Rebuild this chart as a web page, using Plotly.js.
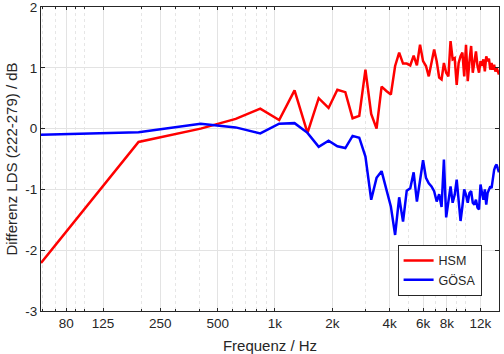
<!DOCTYPE html>
<html>
<head>
<meta charset="utf-8">
<script src="https://cdn.plot.ly/plotly-3.0.1.min.js"></script>
<style>html,body{margin:0;padding:0;background:#fff;}#chart{width:504px;height:354px;}</style>
</head>
<body>
<div id="chart"></div>
<script>
// Frequency points (Hz)
const freq = [59, 192, 407, 622, 837, 1052, 1267, 1482, 1697, 1912, 2127, 2342, 2557, 2772, 2987, 3202, 3417, 3632, 3847, 4062,
  4277, 4492, 4707, 4922, 5137, 5352, 5567, 5782, 5997, 6212, 6427, 6642, 6857, 7072, 7287, 7502, 7717, 7932, 8147, 8362,
  8577, 8792, 9007, 9222, 9437, 9652, 9867, 10082, 10297, 10512, 10727, 10942, 11157, 11372, 11587, 11802, 12017, 12232, 12447, 12662,
  12877, 13092, 13307, 13522, 13737, 13952, 14167, 14382, 14597, 14812, 15027];

// HSM difference (dB)
const hsm = [-2.21, -0.22, 0.00, 0.16, 0.33, 0.14, 0.63, -0.07, 0.50, 0.34, 0.64, 0.60, 0.17, 0.21, 0.97, 0.24, 0.00, 0.69, 0.62, 0.56,
  1.03, 1.25, 1.07, 1.07, 1.04, 1.20, 1.04, 1.38, 1.11, 1.03, 0.86, 1.08, 1.30, 1.11, 0.84, 0.81, 1.08, 0.92, 0.86, 1.44,
  1.14, 1.16, 0.72, 1.08, 1.19, 1.25, 0.86, 1.38, 0.78, 1.11, 1.36, 0.92, 1.14, 1.27, 1.03, 0.92, 1.11, 1.03, 1.14, 0.94,
  1.19, 1.11, 1.15, 0.97, 1.08, 0.97, 1.05, 0.94, 1.00, 0.95, 0.89];

// GÖSA difference (dB)
const goesa = [-0.10, -0.06, 0.08, 0.02, -0.08, 0.08, 0.09, -0.07, -0.30, -0.20, -0.29, -0.32, -0.12, -0.15, -0.46, -1.17, -0.81, -0.70, -1.00, -1.28,
  -1.75, -1.13, -1.53, -1.02, -0.98, -0.72, -1.20, -0.85, -0.52, -0.81, -0.90, -0.95, -1.03, -1.20, -1.08, -1.29, -0.51, -1.46, -1.20, -0.95,
  -1.22, -1.09, -0.84, -1.22, -1.52, -1.28, -1.00, -1.09, -1.22, -1.06, -1.03, -1.22, -1.25, -1.17, -1.30, -1.33, -0.92, -1.06, -1.17, -1.00,
  -1.25, -1.06, -1.00, -0.95, -0.98, -0.79, -0.68, -0.62, -0.59, -0.66, -0.72];

const seriesNames = ['HSM', 'GÖSA'];
const xTickVals = [80, 125, 250, 500, 1000, 2000, 4000, 6000, 8000, 12000];
const xTickText = ['80', '125', '250', '500', '1k', '2k', '4k', '6k', '8k', '12k'];
const xMinorVals = [60, 70, 90, 100, 200, 300, 400, 600, 700, 800, 900, 3000, 5000, 7000, 9000, 10000];
const yTickVals = [-3, -2, -1, 0, 1, 2];
const yTickText = ['-3', '-2', '-1', '0', '1', '2'];

const axisCol = '#262626';
const traces = [
  {x: freq, y: hsm, name: seriesNames[0], type: 'scatter', mode: 'lines', line: {color: '#ff0000', width: 2.5}},
  {x: freq, y: goesa, name: seriesNames[1], type: 'scatter', mode: 'lines', line: {color: '#0000ff', width: 2.5}}
];

const layout = {
  width: 504, height: 354,
  margin: {l: 41, r: 5, t: 7, b: 43},
  paper_bgcolor: '#ffffff', plot_bgcolor: '#ffffff',
  font: {family: 'Liberation Sans, Arial, sans-serif', size: 13.5, color: axisCol},
  showlegend: true,
  legend: {x: 0.962, xanchor: 'right', y: 0.05, yanchor: 'bottom', bgcolor: '#ffffff',
           bordercolor: axisCol, borderwidth: 1, font: {size: 12.5}},
  xaxis: {
    type: 'log', range: [Math.log10(freq[0]), Math.log10(freq[freq.length - 1])],
    tickmode: 'array', tickvals: xTickVals, ticktext: xTickText,
    ticks: 'inside', ticklen: 3, tickcolor: axisCol, tickwidth: 1,
    showline: true, linecolor: axisCol, linewidth: 1, mirror: 'ticks',
    showgrid: true, gridcolor: '#e3e3e3', gridwidth: 1, zeroline: false,
    ticklabeloverflow: 'allow',
    minor: {tickvals: xMinorVals, ticks: 'inside', ticklen: 2, tickcolor: axisCol,
            showgrid: true, gridcolor: '#e6e6e6', griddash: 'dot', gridwidth: 1},
    title: {text: 'Frequenz / Hz', font: {size: 15}, standoff: 10},
    automargin: false
  },
  yaxis: {
    range: [-3.001, 2.001], tickmode: 'array', tickvals: yTickVals, ticktext: yTickText,
    ticks: 'inside', ticklen: 4, tickcolor: axisCol, tickwidth: 1,
    showline: true, linecolor: axisCol, linewidth: 1, mirror: 'ticks',
    showgrid: true, gridcolor: '#e3e3e3', gridwidth: 1, zeroline: false,
    ticklabeloverflow: 'allow',
    title: {text: 'Differenz LDS (222-279) / dB', font: {size: 15}, standoff: 4},
    automargin: false
  }
};

Plotly.newPlot('chart', traces, layout, {displayModeBar: false, staticPlot: true});
</script>
</body>
</html>
